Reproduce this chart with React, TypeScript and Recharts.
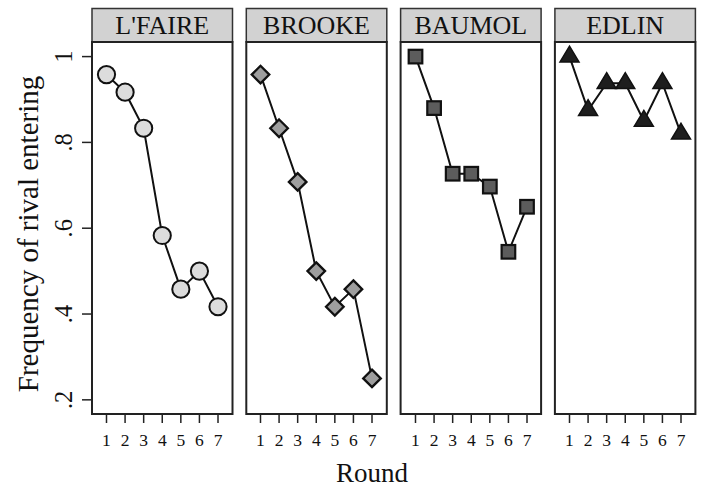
import React from "react";
import { LineChart, Line, XAxis, YAxis } from "recharts";

const rounds = [1, 2, 3, 4, 5, 6, 7];
const panelNames = ["L'FAIRE", "BROOKE", "BAUMOL", "EDLIN"];
const lfaire = [0.958, 0.917, 0.833, 0.583, 0.458, 0.5, 0.417];
const brooke = [0.958, 0.833, 0.708, 0.5, 0.417, 0.458, 0.25];
const baumol = [1, 0.88, 0.727, 0.727, 0.697, 0.545, 0.65];
const edlin = [1, 0.875, 0.938, 0.938, 0.85, 0.938, 0.82];
const yTicks = [0.2, 0.4, 0.6, 0.8, 1];
const yTickLabels = [".2", ".4", ".6", ".8", "1"];
const xTickLabels = ["1", "2", "3", "4", "5", "6", "7"];

const FONT = "'Liberation Serif', 'Times New Roman', serif";
const W = 701;
const H = 494;
const PLOT_LEFT0 = 92;
const PITCH = 154.3;
const PW = 140.5;
const TOP = 42;
const BOTTOM = 414;
const XAH = 30;
const YAW = 60;
const X_DOMAIN: [number, number] = [0.22, 7.78];
const Y_DOMAIN: [number, number] = [0.167, 1.034];

const seriesList = [lfaire, brooke, baumol, edlin];

function makeData(vals: number[]) {
  return rounds.map((r, i) => ({ round: r, v: vals[i] }));
}

const CircleDot = (p: any) => (
  <circle key={`c${p.index}`} cx={p.cx} cy={p.cy} r={8.6} fill="#dcdcdc" stroke="#111" strokeWidth={2} />
);
const DiamondDot = (p: any) => {
  const d = 8.8;
  return (
    <polygon
      key={`d${p.index}`}
      points={`${p.cx},${p.cy - d} ${p.cx + d},${p.cy} ${p.cx},${p.cy + d} ${p.cx - d},${p.cy}`}
      fill="#9e9e9e"
      stroke="#111"
      strokeWidth={2.3}
    />
  );
};
const SquareDot = (p: any) => {
  const s = 6.8;
  return (
    <rect key={`s${p.index}`} x={p.cx - s} y={p.cy - s} width={2 * s} height={2 * s} fill="#5c5c5c" stroke="#111" strokeWidth={2.2} />
  );
};
const TriangleDot = (p: any) => (
  <polygon
    key={`t${p.index}`}
    points={`${p.cx},${p.cy - 10.5} ${p.cx + 9.5},${p.cy + 5.3} ${p.cx - 9.5},${p.cy + 5.3}`}
    fill="#1e1e1e"
    stroke="#111"
    strokeWidth={1.5}
  />
);
const dots = [CircleDot, DiamondDot, SquareDot, TriangleDot];

const XTick = (p: any) => {
  const idx = rounds.indexOf(p.payload.value);
  return (
    <text x={p.x} y={p.y} dy={23} textAnchor="middle" fontFamily={FONT} fontSize={17.5} fill="#111">
      {xTickLabels[idx]}
    </text>
  );
};

const YTick = (p: any) => {
  const idx = yTicks.indexOf(p.payload.value);
  const bx = p.x - 10;
  return (
    <text x={bx} y={p.y} transform={`rotate(-90, ${bx}, ${p.y})`} textAnchor="middle" fontFamily={FONT} fontSize={24.5} fill="#111">
      {yTickLabels[idx]}
    </text>
  );
};

function Panel({ i }: { i: number }) {
  const plotLeft = PLOT_LEFT0 + i * PITCH;
  const first = i === 0;
  const chartLeft = first ? 0 : plotLeft - 6;
  const mLeft = first ? plotLeft - YAW : 6;
  const width = first ? plotLeft + PW + 6 : PW + 12;
  return (
    <div style={{ position: "absolute", left: chartLeft, top: 0 }}>
      <LineChart
        width={width}
        height={H}
        data={makeData(seriesList[i])}
        margin={{ top: TOP, right: 6, bottom: H - BOTTOM - XAH, left: mLeft }}
      >
        <XAxis
          dataKey="round"
          type="number"
          domain={X_DOMAIN}
          ticks={rounds}
          interval={0}
          allowDataOverflow
          axisLine={false}
          tickLine={{ stroke: "#222", strokeWidth: 1.5 }}
          tickSize={9}
          tickMargin={0}
          height={XAH}
          tick={<XTick />}
        />
        <YAxis
          type="number"
          domain={Y_DOMAIN}
          ticks={yTicks}
          interval={0}
          allowDataOverflow
          axisLine={false}
          tickLine={{ stroke: "#222", strokeWidth: 1.5 }}
          tickSize={10}
          tickMargin={0}
          width={first ? YAW : 0}
          hide={!first}
          tick={<YTick />}
        />
        <Line
          type="linear"
          dataKey="v"
          stroke="#111"
          strokeWidth={2}
          dot={dots[i]}
          activeDot={false}
          isAnimationActive={false}
        />
      </LineChart>
    </div>
  );
}

export default function App() {
  return (
    <div style={{ position: "absolute", left: 0, top: 0, width: W, height: H, background: "#fff", fontFamily: FONT }}>
      {panelNames.map((_, i) => (
        <Panel key={i} i={i} />
      ))}
      <svg width={W} height={H} style={{ position: "absolute", left: 0, top: 0, pointerEvents: "none" }}>
        {panelNames.map((name, i) => {
          const x = PLOT_LEFT0 + i * PITCH;
          return (
            <g key={name}>
              <rect x={x} y={8.5} width={PW} height={TOP - 8.5} fill="#d2d2d2" stroke="#333" strokeWidth={1.5} />
              <text x={x + PW / 2} y={34} textAnchor="middle" fontFamily={FONT} fontSize={26} fill="#111">
                {name}
              </text>
              <rect x={x} y={TOP} width={PW} height={BOTTOM - TOP} fill="none" stroke="#222" strokeWidth={2} />
            </g>
          );
        })}
        <text x={372} y={482} textAnchor="middle" fontFamily={FONT} fontSize={27} fill="#111">
          Round
        </text>
        <text
          x={37.5}
          y={234}
          transform="rotate(-90, 37.5, 234)"
          textAnchor="middle"
          fontFamily={FONT}
          fontSize={29}
          fill="#111"
        >
          Frequency of rival entering
        </text>
      </svg>
    </div>
  );
}
